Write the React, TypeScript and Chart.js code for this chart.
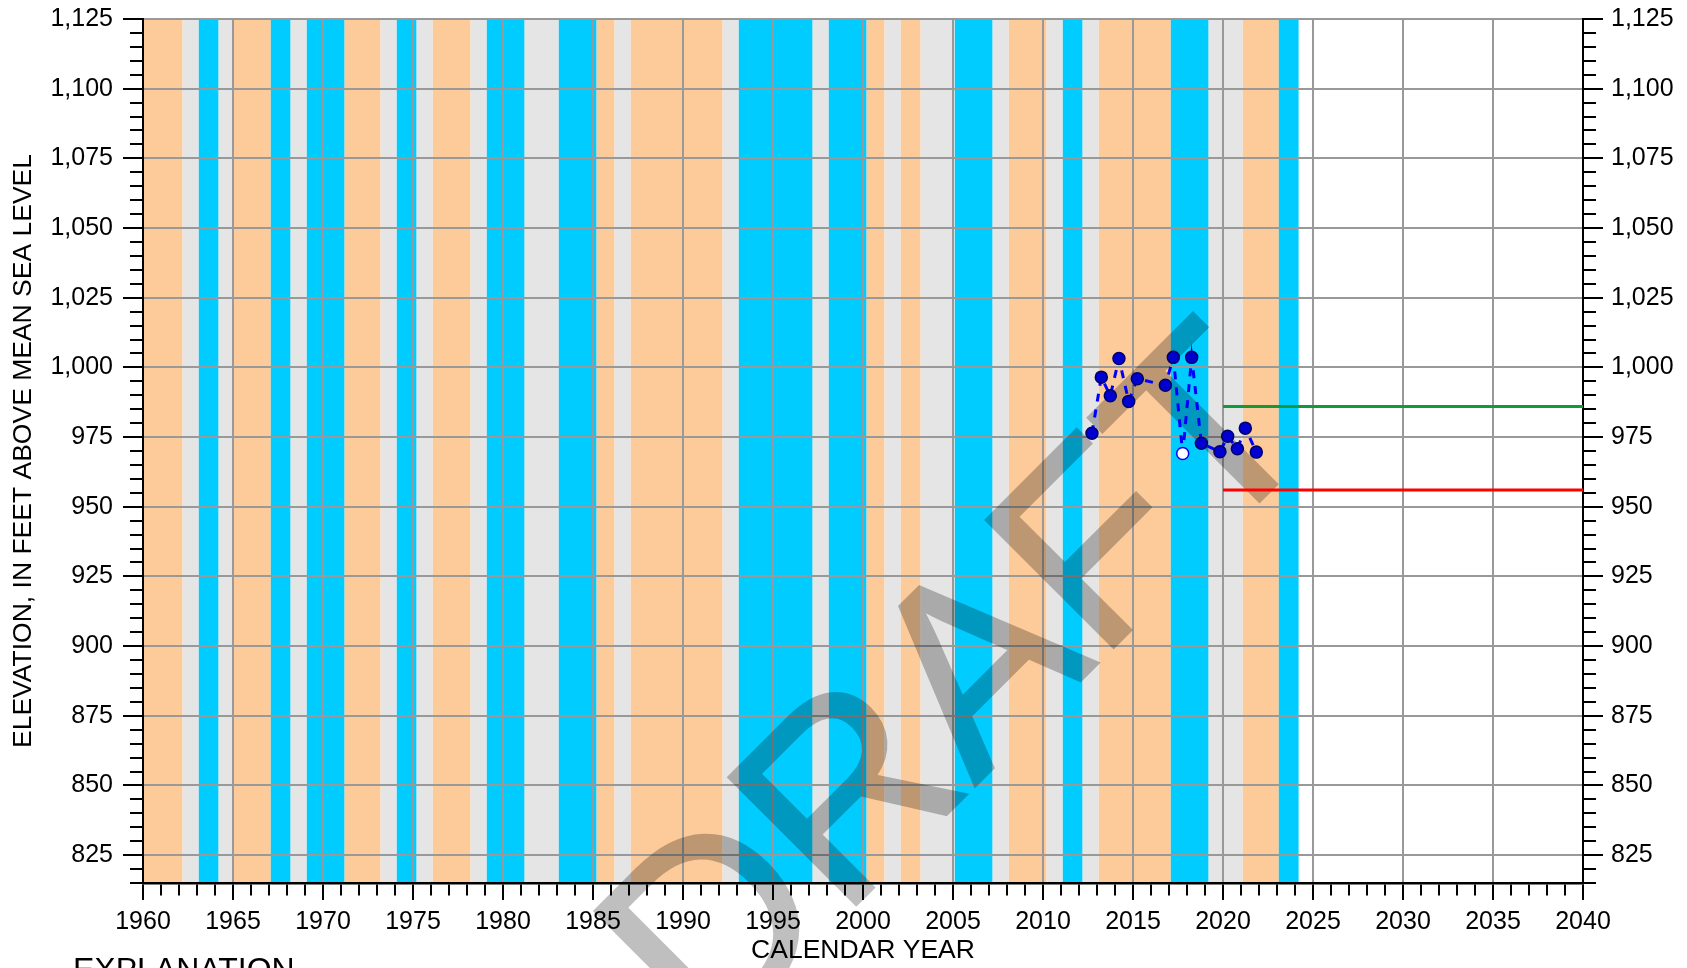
import React, { useEffect, useRef } from 'react';
import { Chart, registerables } from 'chart.js';

Chart.register(...registerables);

const FONT = "'Liberation Sans', Arial, Helvetica, sans-serif";

// Hydrologic condition bands (year boundaries) and their classes
const bandEdges = [
  1960, 1962.2, 1963.1, 1964.2, 1965, 1967.1, 1968.2, 1969.1, 1971.2, 1973.2,
  1974.1, 1975.2, 1976.1, 1978.2, 1979.1, 1981.2, 1983.1, 1985.2, 1986.2, 1987.1,
  1992.2, 1993.1, 1997.2, 1998.1, 2000.2, 2001.2, 2002.1, 2003.2, 2005.1, 2007.2,
  2008.1, 2010.2, 2011.1, 2012.2, 2013.1, 2017.1, 2019.2, 2021.1, 2023.1, 2024.2,
];
const bandTypes = [
  'dry', 'avg', 'wet', 'avg', 'dry', 'wet', 'avg', 'wet', 'dry', 'avg',
  'wet', 'avg', 'dry', 'avg', 'wet', 'avg', 'wet', 'dry', 'avg', 'dry',
  'avg', 'wet', 'avg', 'wet', 'dry', 'avg', 'dry', 'avg', 'wet', 'avg',
  'dry', 'avg', 'wet', 'avg', 'dry', 'wet', 'avg', 'dry', 'wet',
];
const bandColors: Record<string, string> = { dry: '#fdcb99', avg: '#e5e5e5', wet: '#00ccff' };

// Water-level observations
const obsYears = [2012.72, 2013.24, 2013.74, 2014.22, 2014.76, 2015.24, 2016.8, 2017.24, 2017.76, 2018.26, 2018.8, 2019.83, 2020.26, 2020.8, 2021.24, 2021.85];
const obsElev = [976.4, 996.5, 989.8, 1003.2, 987.8, 995.9, 993.6, 1003.6, 969.1, 1003.6, 972.8, 969.7, 975.3, 970.8, 978.2, 969.6];
const obsOpen = [false, false, false, false, false, false, false, false, true, false, false, false, false, false, false, false];

// Reference levels
const levelYears = [2020, 2040];
const greenLevel = 986;
const redLevel = 956;

// Axis ranges / ticks
const xMin = 1960;
const xMax = 2040;
const xMinorStep = 1;
const xMajorStep = 5;
const yMin = 815;
const yMax = 1125;
const yMinorStep = 5;
const yMajorStep = 25;

const bandsPlugin = {
  id: 'bands',
  beforeDraw(chart: any) {
    const { ctx, chartArea, scales } = chart;
    const x = scales.x;
    ctx.save();
    for (let i = 0; i < bandTypes.length; i++) {
      const x0 = x.getPixelForValue(bandEdges[i]);
      const x1 = x.getPixelForValue(bandEdges[i + 1]);
      ctx.fillStyle = bandColors[bandTypes[i]];
      ctx.fillRect(x0, chartArea.top, x1 - x0, chartArea.bottom - chartArea.top);
    }
    ctx.restore();
  },
};

const watermarkPlugin = {
  id: 'watermark',
  beforeDatasetsDraw(chart: any) {
    const { ctx, width, height } = chart;
    const off = document.createElement('canvas');
    off.width = width;
    off.height = height;
    const o = off.getContext('2d')!;
    o.translate(1016, 745);
    o.rotate((-45 * Math.PI) / 180);
    o.font = `262px ${FONT}`;
    o.textAlign = 'center';
    o.textBaseline = 'alphabetic';
    o.fillStyle = '#000';
    o.strokeStyle = '#000';
    o.lineWidth = 3;
    o.lineJoin = 'miter';
    o.fillText('DRAFT', 0, 0);
    o.strokeText('DRAFT', 0, 0);
    ctx.save();
    ctx.globalAlpha = 0.25;
    ctx.drawImage(off, 0, 0);
    ctx.restore();
  },
  afterDraw(chart: any) {
    const { ctx } = chart;
    ctx.save();
    ctx.font = `32px ${FONT}`;
    ctx.fillStyle = '#000';
    ctx.textAlign = 'left';
    ctx.textBaseline = 'alphabetic';
    ctx.fillText('EXPLANATION', 73, 980);
    ctx.restore();
  },
};

const isMult = (v: number, step: number) => Math.abs(Math.round(v) % step) === 0;

export default function App() {
  const ref = useRef<HTMLCanvasElement | null>(null);

  useEffect(() => {
    if (!ref.current) return;
    Chart.defaults.font.family = FONT;
    const tickFont = { family: FONT, size: 25 };
    const titleFont = { family: FONT, size: 26.5 };

    const yAxisCommon = (side: 'left' | 'right') => ({
      type: 'linear' as const,
      position: side,
      min: yMin,
      max: yMax,
      afterFit: (s: any) => {
        s.width = side === 'left' ? 143 : 104;
        s.paddingTop = 0;
        s.paddingBottom = 0;
      },
      ticks: {
        stepSize: yMinorStep,
        autoSkip: false,
        padding: side === 'left' ? 10 : 8,
        color: '#000',
        font: tickFont,
        callback: (v: any) => (isMult(v, yMajorStep) ? Math.round(v).toLocaleString('en-US') : ''),
      },
      grid: {
        drawOnChartArea: side === 'left',
        color: (c: any) => (c.tick && isMult(c.tick.value, yMajorStep) ? '#999999' : 'rgba(0,0,0,0)'),
        lineWidth: 2,
        tickLength: 20,
        tickColor: '#000',
        tickWidth: 2,
        tickBorderDash: (c: any) =>
          c.tick && isMult(c.tick.value, yMajorStep) ? [] : side === 'left' ? [0, 7, 13, 1000] : [12, 1000],
      },
      border: { display: true, color: '#000', width: 2 },
    });

    const chart = new Chart(ref.current, {
      type: 'line',
      data: {
        datasets: [
          {
            label: 'Observed',
            data: obsYears.map((x, i) => ({ x, y: obsElev[i] })),
            borderColor: '#0000ff',
            borderWidth: 3,
            borderDash: [8, 8],
            pointRadius: 6,
            pointBorderWidth: 1.5,
            pointBackgroundColor: obsOpen.map((o) => (o ? '#ffffff' : '#0000d0')),
            pointBorderColor: obsOpen.map((o) => (o ? '#0000ff' : '#00006a')),
            fill: false,
            tension: 0,
          },
          {
            label: 'Upper',
            data: levelYears.map((x) => ({ x, y: greenLevel })),
            borderColor: '#129a3a',
            borderWidth: 3,
            pointRadius: 0,
            fill: false,
          },
          {
            label: 'Lower',
            data: levelYears.map((x) => ({ x, y: redLevel })),
            borderColor: '#ff0000',
            borderWidth: 3,
            pointRadius: 0,
            fill: false,
          },
        ],
      },
      options: {
        responsive: false,
        animation: false,
        events: [],
        devicePixelRatio: 1,
        layout: { padding: { top: 19, left: 0, right: 0, bottom: 0 } },
        plugins: { legend: { display: false }, tooltip: { enabled: false } },
        scales: {
          x: {
            type: 'linear',
            position: 'bottom',
            min: xMin,
            max: xMax,
            afterFit: (s: any) => {
              s.height = 85;
            },
            ticks: {
              stepSize: xMinorStep,
              autoSkip: false,
              maxRotation: 0,
              minRotation: 0,
              padding: 7,
              color: '#000',
              font: tickFont,
              callback: (v: any) => (isMult(v, xMajorStep) ? String(Math.round(v)) : ''),
            },
            grid: {
              color: (c: any) => (c.tick && isMult(c.tick.value, xMajorStep) ? '#999999' : 'rgba(0,0,0,0)'),
              lineWidth: 2,
              tickLength: 17,
              tickColor: '#000',
              tickWidth: 2,
              tickBorderDash: (c: any) => (c.tick && isMult(c.tick.value, xMajorStep) ? [] : [11, 1000]),
            },
            border: { display: true, color: '#000', width: 2.5 },
            title: {
              display: true,
              text: 'CALENDAR YEAR',
              color: '#000',
              font: titleFont,
              padding: { top: 0, bottom: 1 },
            },
          },
          y: {
            ...yAxisCommon('left'),
            title: {
              display: true,
              text: 'ELEVATION, IN FEET ABOVE MEAN SEA LEVEL',
              color: '#000',
              font: titleFont,
              padding: { top: 8, bottom: 0 },
            },
          },
          y2: yAxisCommon('right'),
        },
      } as any,
      plugins: [bandsPlugin, watermarkPlugin],
    });
    return () => chart.destroy();
  }, []);

  return (
    <div style={{ position: 'fixed', left: 0, top: 0, width: 1687, height: 968, overflow: 'hidden', background: '#fff' }}>
      <canvas ref={ref} width={1687} height={968} style={{ display: 'block', width: 1687, height: 968 }} />
    </div>
  );
}
